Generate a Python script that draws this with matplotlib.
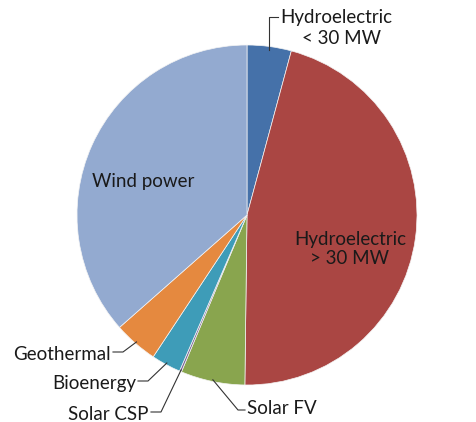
import numpy as np
import matplotlib.pyplot as plt

plt.rcParams['font.family'] = ['Lato', 'DejaVu Sans']

# shares in %, clockwise from 12 o'clock
labels = ['Hydroelectric\n< 30 MW', 'Hydroelectric\n> 30 MW', 'Solar FV', 'Solar CSP',
          'Bioenergy', 'Geothermal', 'Wind power']
shares = [4.2, 46.0, 6.1, 0.2, 2.8, 4.2, 36.5]
colors = ['#4571A9', '#AA4643', '#89A54E', '#7E6A9A', '#3E9CB8', '#E5893F', '#93AAD0']

W, H = 477, 422
fig = plt.figure(figsize=(W / 100, H / 100), dpi=100)
ax = fig.add_axes([0, 0, 1, 1])
ax.set_aspect('equal')

cx, cy, r = 247, H - 215, 170
wedges, _ = ax.pie(shares, colors=colors, startangle=90, counterclock=False,
                   center=(cx, cy), radius=r, frame=True,
                   wedgeprops=dict(edgecolor='#f4f4f4', linewidth=0.5))
ax.set_xlim(0, W)
ax.set_ylim(0, H)
ax.axis('off')

# point on the rim at the middle of wedge i
def rim(i, k=1.0):
    w = wedges[i]
    a = np.deg2rad((w.theta1 + w.theta2) / 2)
    return cx + k * r * np.cos(a), cy + k * r * np.sin(a)

fs = 13.5
txt = '#1a1a1a'
lc = '#333333'

# inside labels
ax.text(143, H - 182, 'Wind power', ha='center', va='center', fontsize=fs, color=txt)
ax.text(350, H - 249, labels[1], ha='center', va='center', fontsize=fs, color=txt,
        linespacing=1.1)

# Hydroelectric < 30 MW, leader up then right
x0, y0 = rim(0, 0.98)
ax.plot([x0, x0, x0 + 9], [y0, H - 17, H - 17], color=lc, lw=0.8)
ax.text(x0 + 11, H - 17, 'Hydroelectric', ha='left', va='center', fontsize=fs, color=txt)
ax.text(x0 + 33, H - 39, '< 30 MW', ha='left', va='center', fontsize=fs, color=txt)

# left-hand labels: (index, elbow x, elbow y, end x)
left = [(5, 123, 352, 113), (4, 148, 381, 138), (3, 161, 412, 151)]
for i, ex, ey, tx in left:
    x0, y0 = rim(i, 0.99)
    ax.plot([x0, ex, tx], [y0, H - ey, H - ey], color=lc, lw=0.8)
    ax.text(tx - 2, H - ey - 3, labels[i], ha='right', va='center', fontsize=fs, color=txt)

# Solar FV
x0, y0 = rim(2, 0.99)
ax.plot([x0, 238, 245], [y0, H - 410, H - 410], color=lc, lw=0.8)
ax.text(247, H - 408, labels[2], ha='left', va='center', fontsize=fs, color=txt)

fig.savefig('out.png', dpi=100)
